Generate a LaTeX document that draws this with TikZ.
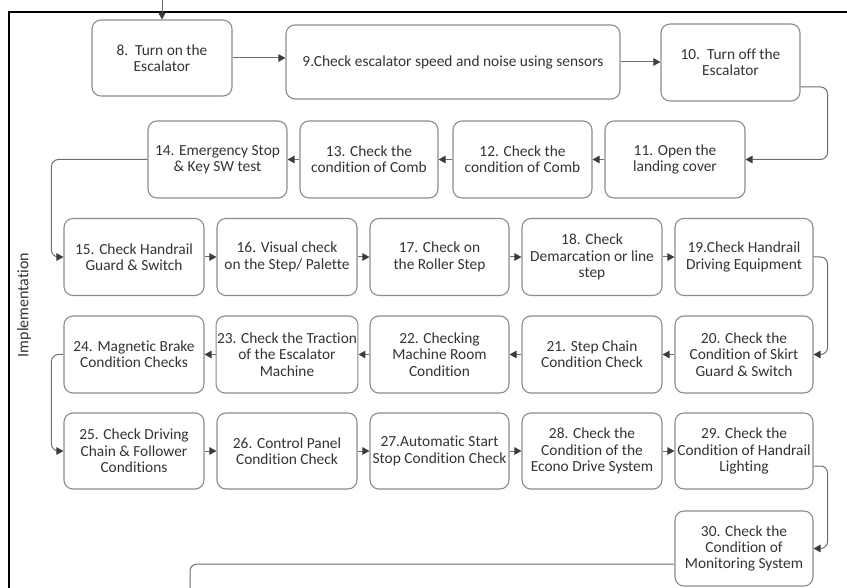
\documentclass[tikz,border=0pt]{standalone}
\usepackage{fontspec}
\setmainfont{Carlito}[Ligatures={NoCommon}]
\usetikzlibrary{arrows.meta}
\definecolor{boxline}{HTML}{8C8C8C}
\definecolor{linkline}{HTML}{6E6E6E}
\definecolor{tipcol}{HTML}{3C3C3C}
\definecolor{txt}{HTML}{333333}
\tikzset{
  stepbox/.style={draw=boxline, line width=1.1pt, rounded corners=9pt,
    minimum width=140pt, minimum height=77pt, align=center,
    font=\fontsize{15.4}{16.3}\selectfont, text=txt, inner sep=1pt},
  link/.style={draw=linkline, line width=1pt, rounded corners=7pt,
    -{Triangle[length=7pt,width=7.5pt,fill=tipcol,color=tipcol]}},
  plainlink/.style={draw=linkline, line width=1pt, rounded corners=7pt},
}
\begin{document}
\begin{tikzpicture}[x=1pt,y=-1pt]
\useasboundingbox (0,0) rectangle (847,588);
\clip (0,0) rectangle (847,588);

% outer frame of the phase panel
\draw[line width=2.4pt, black] (9,600) -- (9,12) -- (860,12);

% phase label
\node[rotate=90, font=\fontsize{16}{18}\selectfont, text=txt] (phase) at (24,305) {Implementation};

% row 1
\node[stepbox, minimum width=140pt, minimum height=76pt] (b8) at (162,58) {8.\ \ Turn on the\\Escalator};
\node[stepbox, minimum width=334pt, minimum height=74pt] (b9) at (453,62) {9.Check escalator speed and noise using sensors};
\node[stepbox, minimum width=139pt] (b10) at (730.5,62.5) {10.\ \ Turn off the\\Escalator};

% row 2
\node[stepbox, minimum width=139pt] (b14) at (217.5,159.5) {14. Emergency Stop\\\& Key SW test};
\node[stepbox, minimum width=138pt] (b13) at (369,159.5) {13. Check the\\condition of Comb};
\node[stepbox, minimum width=139pt] (b12) at (522.5,159.5) {12. Check the\\condition of Comb};
\node[stepbox] (b11) at (675,159.5) {11. Open the\\landing cover};

% row 3
\node[stepbox] (b15) at (134,257) {15. Check Handrail\\Guard \& Switch};
\node[stepbox] (b16) at (287,257) {16. Visual check\\on the Step/ Palette};
\node[stepbox, minimum width=139pt] (b17) at (439.5,257) {17. Check on\\the Roller Step};
\node[stepbox] (b18) at (592,257) {18. Check\\Demarcation or line\\step};
\node[stepbox, minimum width=138pt] (b19) at (744,257) {19.Check Handrail\\Driving Equipment};

% row 4
\node[stepbox, minimum width=138pt] (b20) at (744,354.5) {20. Check the\\Condition of Skirt\\Guard \& Switch};
\node[stepbox] (b21) at (592,354.5) {21. Step Chain\\Condition Check};
\node[stepbox, minimum width=139pt] (b22) at (439.5,354.5) {22. Checking\\Machine Room\\Condition};
\node[stepbox] (b23) at (287,354.5) {23. Check the Traction\\of the Escalator\\Machine};
\node[stepbox] (b24) at (134,354.5) {24. Magnetic Brake\\Condition Checks};

% row 5
\node[stepbox, minimum height=76pt] (b25) at (134,451) {25. Check Driving\\Chain \& Follower\\Conditions};
\node[stepbox, minimum height=76pt] (b26) at (287,451) {26. Control Panel\\Condition Check};
\node[stepbox, minimum width=139pt, minimum height=76pt] (b27) at (439.5,451) {27.Automatic Start\\Stop Condition Check};
\node[stepbox, minimum height=76pt] (b28) at (592,451) {28. Check the\\Condition of the\\Econo Drive System};
\node[stepbox, minimum width=138pt, minimum height=76pt] (b29) at (744,451) {29. Check the\\Condition of Handrail\\Lighting};

% row 6
\node[stepbox, minimum width=138pt, minimum height=75pt] (b30) at (744,548.5) {30. Check the\\Condition of\\Monitoring System};

% loose ends of the flow
\coordinate (entry) at (162,-5);
\coordinate (exitA) at (190,600);

% connectors
\draw[link] (entry) -- (b8.north);
\draw[link] (b8.east) -- (b8.east -| b9.west);
\draw[link] (b9.east) -- (b9.east -| b10.west);
\draw[link] ([yshift=-24.5pt]b10.east) -- ++(27,0) |- (b11.east);
\draw[link] (b11) -- (b12);
\draw[link] (b12) -- (b13);
\draw[link] (b13) -- (b14);
\draw[link] (b14.west) -| ([xshift=-12pt]b15.west) -- (b15.west);
\draw[link] (b15) -- (b16);
\draw[link] (b16) -- (b17);
\draw[link] (b17) -- (b18);
\draw[link] (b18) -- (b19);
\draw[link] (b19.east) -- ++(14,0) |- (b20.east);
\draw[link] (b20) -- (b21);
\draw[link] (b21) -- (b22);
\draw[link] (b22) -- (b23);
\draw[link] (b23) -- (b24);
\draw[link] (b24.west) -| ([xshift=-12pt]b25.west) -- (b25.west);
\draw[link] (b25) -- (b26);
\draw[link] (b26) -- (b27);
\draw[link] (b27) -- (b28);
\draw[link] (b28) -- (b29);
\draw[link] ([yshift=-15pt]b29.east) -- ++(14,0) |- (b30.east);
\draw[plainlink] ([yshift=-15.5pt]b30.west) -| (exitA);
\end{tikzpicture}
\end{document}
